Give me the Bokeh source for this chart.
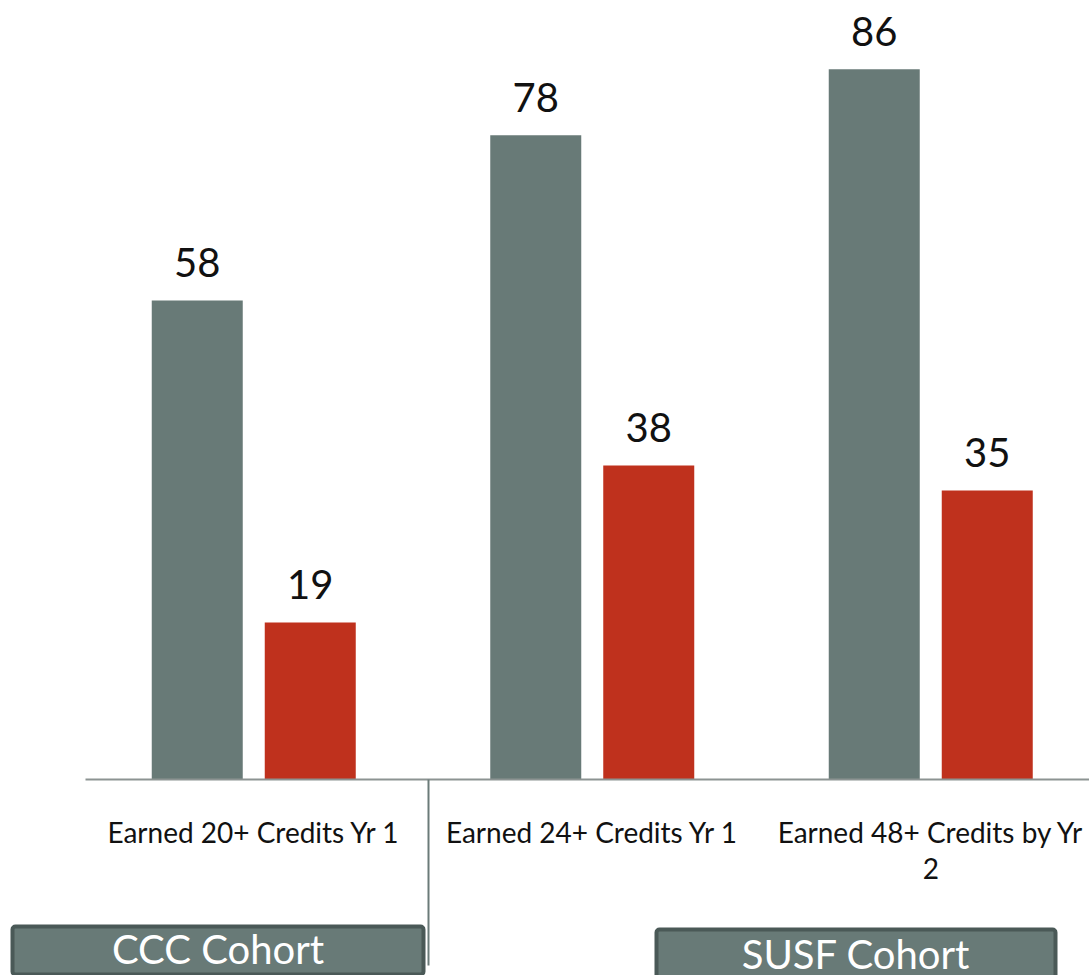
from bokeh.plotting import figure
from bokeh.models import Range1d, BoxAnnotation
from bokeh.core.properties import value
from bokeh.embed import file_html
from bokeh.resources import INLINE

# Data
categories = ["Earned 20+ Credits Yr 1", "Earned 24+ Credits Yr 1", "Earned 48+ Credits by Yr\n2"]
series_a = [58, 78, 86]   # grey bars
series_b = [19, 38, 35]   # red bars
cohort_labels = ["CCC Cohort", "SUSF Cohort"]

GREY = "#687a77"
RED = "#bf311d"
BOX_FILL = "#687a77"
BOX_LINE = "#4a5957"
FONT = "Lato"

W, H = 1089, 975
# canvas scale: one category = 338.5 px, one unit of value = 8.26 px
X_PX = 338.5
Y_PX = 8.26
X0_PX = 84.0    # left edge of first category
Y0_PX = 779.0   # baseline

def px_x(px):
    return (px - X0_PX) / X_PX

def px_y(py):
    return (Y0_PX - py) / Y_PX

p = figure(width=W, height=H, output_backend="svg", toolbar_location=None,
           x_range=Range1d(px_x(0), px_x(W)), y_range=Range1d(px_y(H), px_y(0)),
           min_border=0, outline_line_color=None, background_fill_color="white")
p.axis.visible = False
p.grid.visible = False

n = len(categories)
centers = [i + 0.5 for i in range(n)]
bw = 91 / X_PX
off = 56.5 / X_PX
xa = [c - off for c in centers]
xb = [c + off for c in centers]

p.vbar(x=xa, top=series_a, bottom=0, width=bw, fill_color=GREY, line_color=None)
p.vbar(x=xb, top=series_b, bottom=0, width=bw, fill_color=RED, line_color=None)

# value labels above the bars
gap = 38 / Y_PX
p.text(x=xa + xb, y=[v + gap for v in series_a + series_b],
       text=[str(v) for v in series_a + series_b],
       text_align="center", text_baseline="alphabetic",
       text_font=value(FONT), text_font_size="40px", text_color="#111111")

# baseline
p.segment(x0=[px_x(85)], y0=[0], x1=[px_x(W)], y1=[0], line_color="#8c9392", line_width=2)

# category labels, wrapped lines
line_y = [px_y(831), px_y(868)]
lx, ly, lt = [], [], []
for c, label in zip(centers, categories):
    for k, line in enumerate(label.split("\n")):
        lx.append(c)
        ly.append(line_y[k])
        lt.append(line)
p.text(x=lx, y=ly, text=lt, text_align="center", text_baseline="alphabetic",
       text_font=value(FONT), text_font_size="28px", text_color="#111111")

# separator between cohorts
p.segment(x0=[px_x(428)], y0=[0], x1=[px_x(428)], y1=[px_y(965)],
          line_color="#6b7b79", line_width=2)

# cohort boxes
boxes = [(12, 423, 926, 974, 948), (656, 1055, 929, 980, 953)]
for (l, r, t, b, base), label in zip(boxes, cohort_labels):
    p.add_layout(BoxAnnotation(left=px_x(l), right=px_x(r), top=px_y(t), bottom=px_y(b),
                               fill_color=BOX_FILL, fill_alpha=1.0,
                               line_color=BOX_LINE, line_alpha=1.0, line_width=4,
                               border_radius=3, level="underlay"))
for (l, r, t, b, base), label in zip(boxes, cohort_labels):
    p.text(x=[px_x((l + r) / 2)], y=[px_y(base)], text=[label],
           text_align="center", text_baseline="alphabetic",
           text_font=value(FONT), text_font_size="40px", text_color="white")

open("out.html", "w").write(file_html(p, INLINE))
